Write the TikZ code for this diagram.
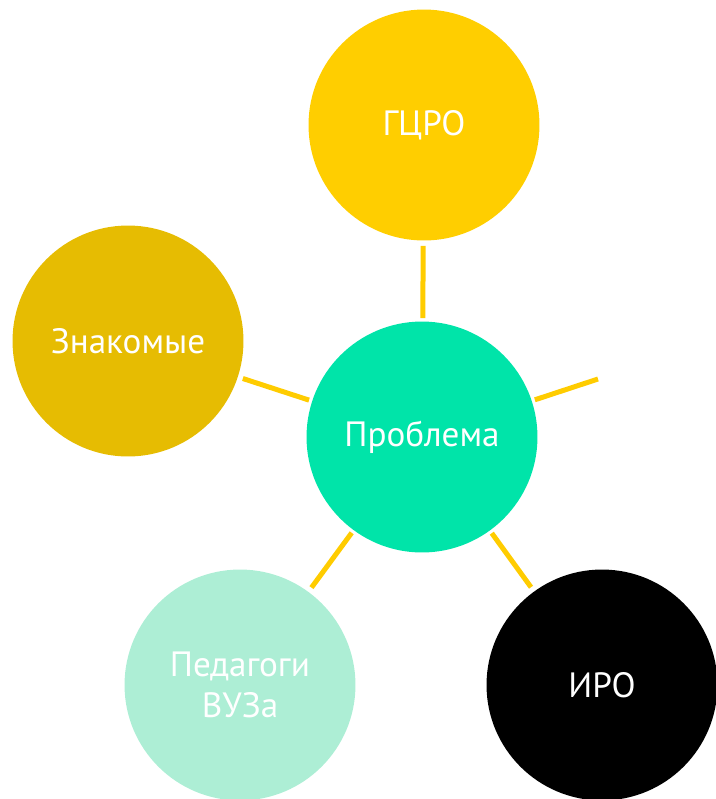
\documentclass[tikz,border=0pt]{standalone}
\usepackage{fontspec}
\setmainfont{PT Sans}
\definecolor{cTop}{HTML}{FFCE00}
\definecolor{cLeft}{HTML}{E6BC02}
\definecolor{cMid}{HTML}{00E4A9}
\definecolor{cLow}{HTML}{ADEED5}
\definecolor{cLine}{HTML}{FFCC00}
\begin{document}
\begin{tikzpicture}[x=0.02cm,y=-0.02cm,
  bubble/.style={circle,minimum size=4.62cm,inner sep=0pt,text=white,align=center,
    font=\fontsize{20pt}{23pt}\selectfont},
  link/.style={draw=cLine,line width=0.1cm,shorten <=0.06cm,shorten >=0.1cm}]
\useasboundingbox (0,0) rectangle (716,799);
\node[bubble,fill=cMid] (mid) at (422,437) {Проблема};
\node[bubble,fill=cTop] (top) at (424,125) {ГЦРО};
\node[bubble,fill=cLeft] (left) at (128,341) {Знакомые};
\node[bubble,fill=cLow] (low) at (240,685) {Педагоги\\ВУЗа};
\node[bubble,fill=black] (iro) at (602,685) {ИРО};
\coordinate (free) at (598,379);
\draw[link] (mid) -- (top);
\draw[link] (mid) -- (left);
\draw[link] (mid) -- (low);
\draw[link] (mid) -- (iro);
\draw[link,shorten >=0pt] (mid) -- (free);
\end{tikzpicture}
\end{document}
